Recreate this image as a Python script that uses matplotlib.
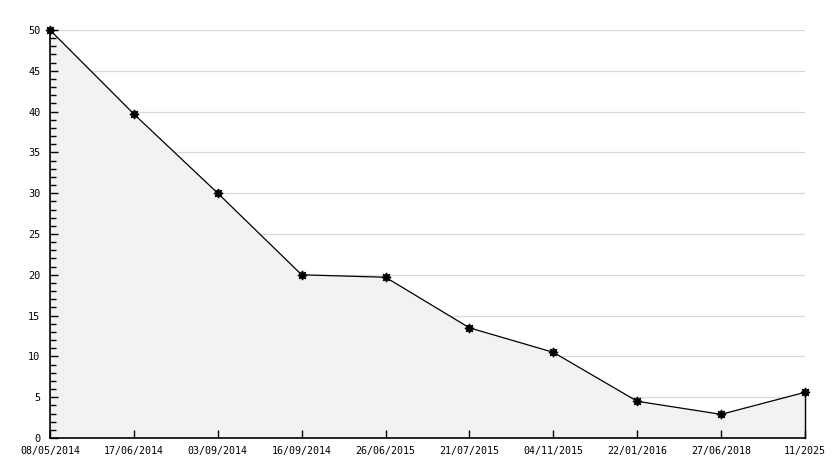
import matplotlib
matplotlib.use("Agg")
import matplotlib.pyplot as plt
from matplotlib.ticker import MultipleLocator

dates = ["08/05/2014", "17/06/2014", "03/09/2014", "16/09/2014", "26/06/2015",
         "21/07/2015", "04/11/2015", "22/01/2016", "27/06/2018", "11/2025"]
values = [50, 39.7, 30, 20, 19.7, 13.5, 10.5, 4.5, 2.9, 5.6]

W, H = 834, 468
fig = plt.figure(figsize=(W / 100, H / 100), dpi=100)
ax = fig.add_axes([50 / W, (H - 438) / H, (805 - 50) / W, (438 - 30) / H])

x = list(range(len(dates)))
for gy in range(5, 51, 5):
    ax.axhline(gy, color="#d9d9d9", lw=0.9, zorder=0.5)
ax.fill_between(x, values, 0, color="#f2f2f2", lw=0, zorder=1)
ax.plot([x[-1], x[-1]], [0, values[-1]], color="black", lw=1.0, zorder=2,
        clip_on=False)
ax.plot(x, values, color="black", lw=0.9, marker=(8, 1, 0), ms=6.5, zorder=3,
        clip_on=False)

ax.set_xlim(0, len(dates) - 1)
ax.set_ylim(0, 50)
ax.yaxis.set_major_locator(MultipleLocator(5))
ax.yaxis.set_minor_locator(MultipleLocator(1))
ax.set_xticks(x)
ax.set_xticklabels(dates)
ax.set_axisbelow(False)

for s in ["top", "right"]:
    ax.spines[s].set_visible(False)
ax.spines["left"].set_linewidth(1.2)
ax.spines["bottom"].set_linewidth(1.2)

ax.tick_params(axis="y", which="major", direction="in", length=6, width=1, pad=7,
               labelsize=7.4)
ax.tick_params(axis="y", which="minor", direction="in", length=4, width=1)
ax.tick_params(axis="x", which="major", direction="in", length=6, width=1, pad=6,
               labelsize=7.2)
for lab in ax.get_xticklabels() + ax.get_yticklabels():
    lab.set_family("DejaVu Sans Mono")

fig.savefig("out.png", dpi=100)
